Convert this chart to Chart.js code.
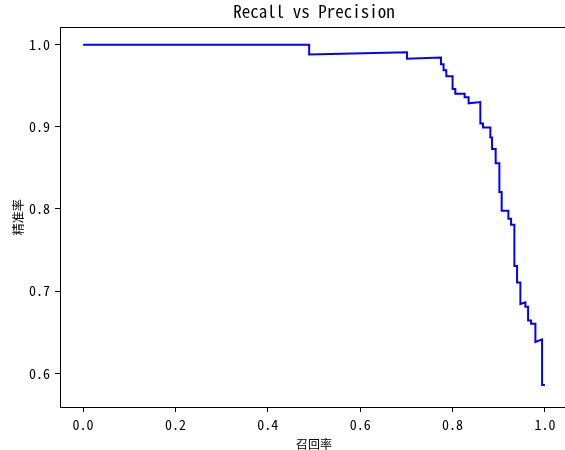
<!DOCTYPE html>
<html>
<head>
<meta charset="utf-8">
<script src="https://cdn.jsdelivr.net/npm/chart.js@4.4.1/dist/chart.umd.min.js"></script>
<style>
  html, body { margin: 0; padding: 0; background: #fff; overflow: hidden; }
  #wrap { width: 568px; height: 450px; }
</style>
</head>
<body>
<div id="wrap"><canvas id="c" width="568" height="450"></canvas></div>
<script>
// recall / precision pairs
const recall = [
  0, 0.4895, 0.4895, 0.7013, 0.7013, 0.775, 0.775, 0.7806, 0.7806, 0.7865,
  0.7865, 0.8001, 0.8001, 0.806, 0.806, 0.8262, 0.8262, 0.8348, 0.8348, 0.8602,
  0.8602, 0.866, 0.866, 0.8819, 0.8819, 0.8856, 0.8856, 0.8934, 0.8934, 0.9014,
  0.9014, 0.9064, 0.9064, 0.9209, 0.9209, 0.9267, 0.9267, 0.9339, 0.9339, 0.9397,
  0.9397, 0.9469, 0.9469, 0.9577, 0.9577, 0.9636, 0.9636, 0.9701, 0.9701, 0.9794,
  0.9794, 0.9939, 0.9939, 1.0
];
const precision = [
  1.0, 1.0, 0.988, 0.9907, 0.9828, 0.9843, 0.9763, 0.9763, 0.969, 0.969,
  0.9614, 0.9614, 0.9461, 0.9461, 0.9401, 0.9401, 0.9361, 0.9361, 0.9286, 0.9301,
  0.904, 0.904, 0.8992, 0.8992, 0.8871, 0.8871, 0.8731, 0.8731, 0.8558, 0.8558,
  0.8208, 0.8208, 0.798, 0.798, 0.788, 0.788, 0.7807, 0.7807, 0.7305, 0.7305,
  0.7105, 0.7105, 0.6843, 0.6864, 0.6811, 0.6811, 0.6642, 0.6642, 0.6602, 0.6602,
  0.6382, 0.6413, 0.5859, 0.5859
];
const xTicks = [0, 0.2, 0.4, 0.6, 0.8, 1.0];
const yTicks = [0.6, 0.7, 0.8, 0.9, 1.0];

const monoFont = '"Noto Sans Mono CJK SC", "DejaVu Sans Mono", monospace';
const cjkFont = '"Noto Sans CJK SC", sans-serif';

// matplotlib style frame round the axes
const frame = {
  id: 'frame',
  afterDraw(chart) {
    const a = chart.chartArea, ctx = chart.ctx;
    ctx.save();
    ctx.strokeStyle = '#000';
    ctx.lineWidth = 1;
    ctx.strokeRect(Math.round(a.left) + 0.5, Math.round(a.top) + 0.5,
      Math.round(a.right - a.left), Math.round(a.bottom - a.top));
    ctx.restore();
  }
};

const pts = recall.map((r, i) => ({ x: r, y: precision[i] }));

new Chart(document.getElementById('c'), {
  type: 'line',
  data: {
    datasets: [{
      data: pts,
      borderColor: '#0000ff',
      borderWidth: 2,
      pointRadius: 0,
      tension: 0,
      fill: false
    }]
  },
  options: {
    responsive: false,
    animation: false,
    layout: { padding: 0 },
    plugins: {
      legend: { display: false },
      tooltip: { enabled: false },
      title: {
        display: true,
        text: 'Recall vs Precision',
        fullSize: false,
        color: '#000',
        font: { family: monoFont, size: 17, weight: 'normal', lineHeight: 1.2 },
        padding: { top: 1, bottom: 6 }
      }
    },
    scales: {
      x: {
        type: 'linear',
        min: -0.05,
        max: 1.05,
        afterBuildTicks: s => { s.ticks = xTicks.map(v => ({ value: v })); },
        afterFit: s => { s.height = 43; },
        ticks: {
          color: '#000',
          padding: 4,
          maxRotation: 0,
          font: { family: monoFont, size: 14 },
          callback: v => v.toFixed(1)
        },
        grid: { drawOnChartArea: false, tickLength: 5, color: '#000' },
        border: { color: '#000' },
        title: {
          display: true,
          text: '召回率',
          color: '#000',
          font: { family: cjkFont, size: 12, lineHeight: 1 },
          padding: { top: 0, bottom: 0 }
        }
      },
      y: {
        min: 0.559,
        max: 1.021,
        afterBuildTicks: s => { s.ticks = yTicks.map(v => ({ value: v })); },
        afterFit: s => { s.width = 60; },
        ticks: {
          color: '#000',
          padding: 5,
          font: { family: monoFont, size: 14 },
          callback: v => v.toFixed(1)
        },
        grid: { drawOnChartArea: false, tickLength: 5, color: '#000' },
        border: { color: '#000' },
        title: {
          display: true,
          text: '精准率',
          color: '#000',
          font: { family: cjkFont, size: 12, lineHeight: 1 },
          padding: { top: 12, bottom: 0 }
        }
      }
    }
  },
  plugins: [frame]
});
</script>
</body>
</html>
